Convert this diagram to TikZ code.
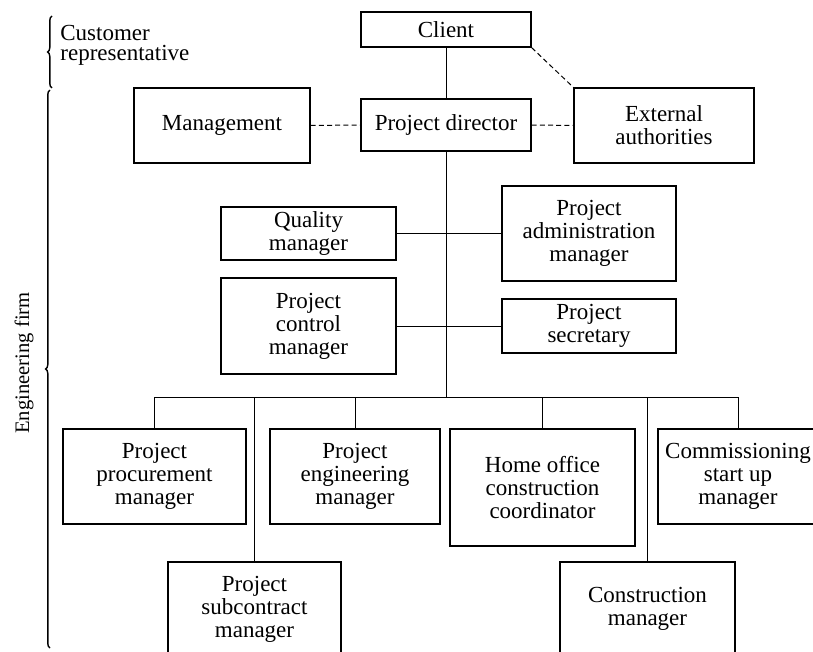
\documentclass[tikz,border=0pt]{standalone}
\usepackage{fontspec}
\setmainfont{Liberation Serif}
\usetikzlibrary{positioning,decorations.pathreplacing}

\begin{document}
\begin{tikzpicture}[x=0.5pt,y=-0.5pt,
    box/.style 2 args={draw, line width=0.6pt, align=center, inner sep=0pt,
      minimum width=#1*0.5pt, minimum height=#2*0.5pt,
      font=\fontsize{11.5}{11.5}\selectfont},
    link/.style={line width=0.5pt},
    dashlink/.style={line width=0.5pt, dash pattern=on 2.5pt off 1.6pt},
    brace/.style={decorate, decoration={brace, amplitude=2.2pt}, line width=0.7pt}]
      \useasboundingbox (0,0) rectangle (813,652);
      \clip (0,0) rectangle (813,652);

      % Client side
      \node[box={170}{35}] (client) at (446,29.5) {Client};
      \node[box={170}{52}] (director) at (446,125) {Project director};
      \node[box={176}{75}] (mgmt) at (222,125.5) {Management};
      \node[box={180}{75}] (extauth) at (664,125.5) {External\\authorities};

      % Staff
      \node[box={175}{53}] (quality) at (308.5,233.5) {Quality\\manager};
      \node[box={175}{96}] (control) at (308.5,326) {Project\\control\\manager};
      \node[box={174}{95}] (admin) at (589,233.5) {Project\\administration\\manager};
      \node[box={174}{54}] (secretary) at (589,326) {Project\\secretary};

      % Line managers
      \node[box={183}{95}] (procure) at (154.5,476.5) {Project\\procurement\\manager};
      \node[box={170}{95}] (engineer) at (355,476.5) {Project\\engineering\\manager};
      \node[box={185}{117}] (homeoff) at (542.5,487.5) {Home office\\construction\\coordinator};
      \node[box={160}{95}] (commiss) at (738,476.5) {Commissioning\\start up\\manager};
      \node[box={173}{94}] (subcon) at (254.5,609) {Project\\subcontract\\manager};
      \node[box={175}{94}] (constr) at (647.5,609) {Construction\\manager};

      % Connectors
      \coordinate (bus) at (446,397);
      \draw[link] (client) -- (director);
      \draw[link] (director) -- (bus);
      \draw[link] (quality) -- (admin);
      \draw[link] (control) -- (secretary);
      \draw[link] (procure.north |- bus) -- (commiss.north |- bus);
      \foreach \n in {procure,engineer,homeoff,commiss,subcon,constr}
        \draw[link] (\n.north) -- (\n.north |- bus);
      \draw[dashlink] (mgmt) -- (director);
      \draw[dashlink] (director) -- (extauth);
      \draw[dashlink] (client.south east) -- (extauth.north west);

      % Braces
      \coordinate (custtop) at (52,16);
      \coordinate (custbot) at (52,88);
      \coordinate (engtop) at (50,90);
      \coordinate (engbot) at (50,648);
      \draw[brace] (custbot) -- (custtop);
      \draw[brace] (engbot) -- (engtop);
      \node[anchor=west, align=left, inner sep=0pt, font=\fontsize{11.5}{10}\selectfont] (custlabel) at (60,45) {Customer\\representative};
      \node[rotate=90, inner sep=0pt, font=\fontsize{10.3}{10}\selectfont] (englabel) at (24,363) {Engineering firm};
    \end{tikzpicture}
\end{document}
